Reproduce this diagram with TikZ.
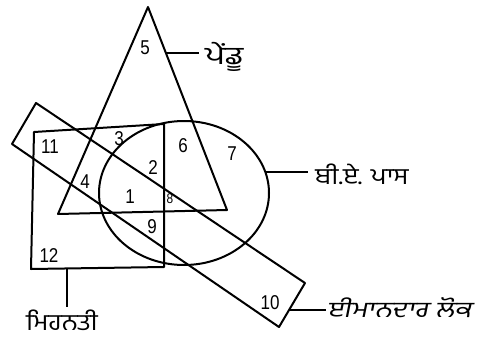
\documentclass[tikz,border=0pt]{standalone}
\usepackage{fontspec}
\setmainfont{Liberation Sans}
\newfontfamily\numfont[FakeStretch=0.85]{Liberation Sans}
\newfontfamily\gurmukhi[Script=Gurmukhi,FakeStretch=1.15]{Hind Jalandhar}
\newfontfamily\gurmukhiwide[Script=Gurmukhi,FakeStretch=1.35]{Hind Jalandhar}
\newfontfamily\gurmukhislant[Script=Gurmukhi,FakeSlant=0.2,FakeStretch=1.3]{Hind Jalandhar}
\usetikzlibrary{calc}

\begin{document}
\begin{tikzpicture}[x=1pt, y=-1pt, every node/.style={inner sep=1pt}, outline/.style={line width=2pt, line join=round}, num/.style={font=\numfont\fontsize{20}{20}\selectfont}, tag/.style={font=\gurmukhi\fontsize{23}{23}\selectfont}, lead/.style={line width=1.6pt}]
\useasboundingbox (0,0) rectangle (486,345);
\coordinate (apex) at (148,7); \coordinate (tleft) at (58,214); \coordinate (tright) at (227,210);
\coordinate (ha) at (34,132); \coordinate (hb) at (164,124); \coordinate (hc) at (164,267); \coordinate (hd) at (31,269);
\coordinate (ia) at (36,103); \coordinate (ib) at (305,283); \coordinate (ic) at (279,327); \coordinate (id) at (12,144);
\draw[outline] (apex) -- (tright) -- (tleft) -- cycle;
\draw[outline] (ha) -- (hb) -- (hc) -- (hd) -- cycle;
\draw[outline] (184,193) ellipse [x radius=85, y radius=72];
\draw[outline] (ia) -- (ib) -- (ic) -- (id) -- cycle;
\node[num] (n1) at (130,197) {1};
\node[num] (n2) at (153,168) {2};
\node[num] (n3) at (119,139) {3};
\node[num] (n4) at (85,182) {4};
\node[num] (n5) at (145,48) {5};
\node[num] (n6) at (183,146) {6};
\node[num] (n7) at (232,154) {7};
\node[num, font=\numfont\fontsize{14}{14}\selectfont] (n8) at (170,199) {8};
\node[num] (n9) at (152,227) {9};
\node[num] (n10) at (270,303) {10};
\node[num] (n11) at (50,147) {11};
\node[num] (n12) at (49,256) {12};
\node[tag, font=\gurmukhiwide\fontsize{25}{25}\selectfont, anchor=west, inner xsep=6pt] (rural) at (199,57) {ਪੇਂਡੂ};
\node[tag, inner xsep=7pt] (grad) at (362,174) {ਬੀ.ਏ. ਪਾਸ};
\node[tag, font=\gurmukhislant\fontsize{22}{22}\selectfont, anchor=west] (honest) at (326,308) {ਈਮਾਨਦਾਰ ਲੋਕ};
\node[tag, anchor=north, inner ysep=3pt, text depth=1pt] (labour) at (62,307) {ਮਿਹਨਤੀ};
\coordinate (ruralmark) at ($(apex)!0.227!(tright)$);
\coordinate (gradmark) at (265,172);
\coordinate (honestmark) at ($(ib)!0.61!(ic)$);
\coordinate (labourmark) at ($(hd)!0.27!(hc)$);
\draw[lead] (ruralmark) -- (ruralmark -| rural.west);
\draw[lead] (gradmark) -- (gradmark -| grad.west);
\draw[lead] (honestmark) -- (honestmark -| honest.west);
\draw[lead] (labourmark) -- (labourmark |- labour.north);
\end{tikzpicture}
\end{document}
